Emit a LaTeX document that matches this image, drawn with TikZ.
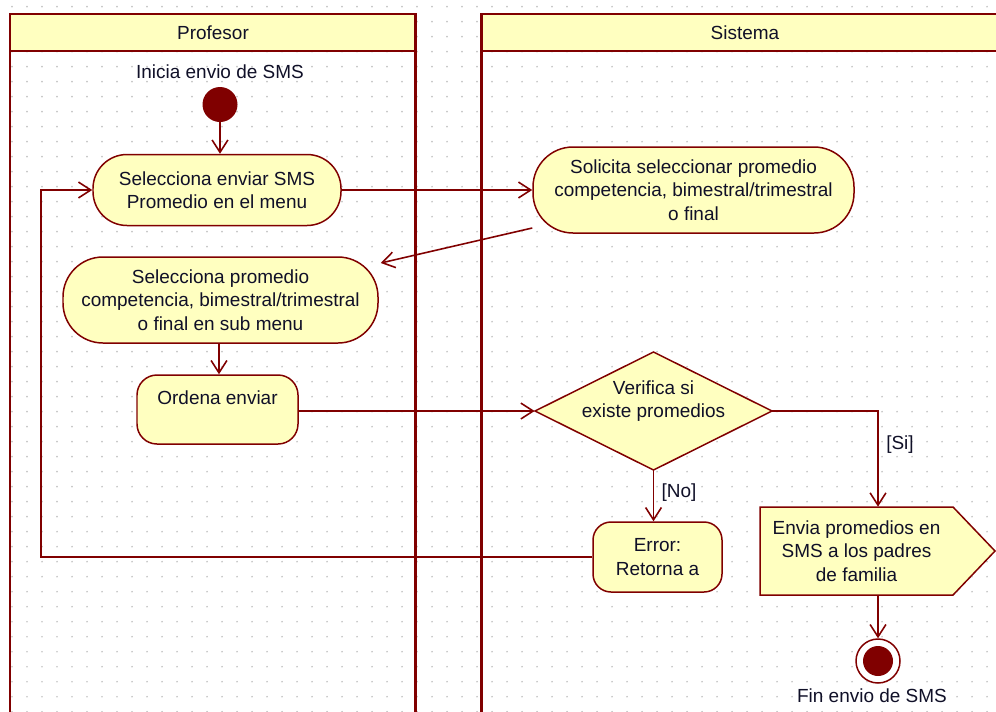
\documentclass[tikz,border=0pt]{standalone}
\usepackage{fontspec}
\setmainfont{Liberation Sans}
\usetikzlibrary{arrows.meta,calc}
\definecolor{dred}{HTML}{800000}
\definecolor{lyel}{HTML}{FFFFC0}
\definecolor{txt}{HTML}{101028}
\definecolor{dotc}{HTML}{C4C4C4}
\def\px{0.02cm}
\begin{document}
\begin{tikzpicture}[x=0.02cm,y=-0.02cm,
  font=\fontsize{10.8}{13.4}\selectfont, text=txt,
  lane/.style={draw=dred,line width=1.7pt},
  act/.style={draw=dred,fill=lyel,line width=0.85pt,align=center,inner sep=0pt},
  shp/.style={draw=dred,fill=lyel,line width=0.85pt},
  hold/.style={align=center,inner sep=0pt},
  flow/.style={draw=dred,line width=0.9pt,-{Straight Barb[length=7pt,width=9pt]}},
  lbl/.style={inner sep=1pt}]
\useasboundingbox (0,0) rectangle (996,711);
% dotted grid
\foreach \i in {0,...,66} \foreach \j in {0,...,47} \fill[dotc] (12+15*\i,6.7+15*\j) circle (0.55pt);
% swimlanes
\filldraw[lane,fill=lyel] (10,14) rectangle (415,51);
\draw[lane] (10,51) -- (10,730);
\draw[lane] (415,51) -- (415,730);
\filldraw[lane,fill=lyel] (481,14) rectangle (1009,51);
\draw[lane] (481,51) -- (481,730);
\node[lbl] (h1) at (213,33) {Profesor};
\node[lbl] (h2) at (745,33) {Sistema};
% start
\node[lbl] (slabel) at (220,72) {Inicia envio de SMS};
\node[circle,fill=dred,inner sep=0pt,minimum size=35*\px] (start) at (220,104.5) {};
% activities
\node[act,rounded corners=34*\px,minimum width=248*\px,minimum height=71*\px] (n1) at (217,190) {Selecciona enviar SMS\\Promedio en el menu};
\node[act,rounded corners=40*\px,minimum width=315*\px,minimum height=86*\px] (n2) at (220.5,300) {Selecciona promedio\\competencia, bimestral/trimestral\\o final en sub menu};
\node[act,rounded corners=20*\px,minimum width=161*\px,minimum height=69*\px] (n3) at (217.5,409.5) {Ordena enviar\\\mbox{}};
\node[act,rounded corners=40*\px,minimum width=321*\px,minimum height=86*\px] (n4) at (693.5,190) {Solicita seleccionar promedio\\competencia, bimestral/trimestral\\o final};
% decision
\filldraw[shp] (535,411) -- (653.5,352) -- (772,411) -- (653.5,470) -- cycle;
\node[hold,minimum width=237*\px,minimum height=118*\px] (dec) at (653.5,411) {Verifica si\\existe promedios\\\mbox{}};
\node[act,rounded corners=18*\px,minimum width=129*\px,minimum height=70*\px] (err) at (657.5,557) {Error:\\Retorna a};
% send signal
\filldraw[shp] (760,507) -- (953,507) -- (995,551) -- (953,595) -- (760,595) -- cycle;
\node[hold,minimum width=193*\px,minimum height=88*\px] (sig) at (856.5,551) {Envia promedios en\\SMS a los padres\\de familia};
% end
\node[circle,draw=dred,fill=white,line width=0.85pt,inner sep=0pt,minimum size=44*\px] (fin) at (878,661) {};
\node[circle,fill=dred,inner sep=0pt,minimum size=30*\px] (finin) at (fin) {};
\node[lbl] (flabel) at (872,696) {Fin envio de SMS};
% connectors
\draw[flow] (start.south) -- (start.south |- n1.north);
\draw[flow] (n1.east) -- (n4.west);
\draw[flow] ($(n4.west)+(0,38)$) -- ($(n2.east)+(2,-37)$);
\draw[flow] ($(n2.south)+(-1.5,0)$) -- ($(n2.south |- n3.north)+(-1.5,0)$);
\draw[flow] (n3.east |- dec.west) -- (dec.west);
\draw[flow] (dec.east) -| (fin |- sig.north);
\node[lbl] (si) at (900,445) {[Si]};
\draw[flow] (dec.south) -- (dec.south |- err.north);
\node[lbl] (no) at (679,493) {[No]};
\coordinate (lx) at (41,557);
\draw[flow] (err.west) -- (lx) |- (n1.west);
\draw[flow] (fin |- sig.south) -- (fin.north);
\end{tikzpicture}
\end{document}
